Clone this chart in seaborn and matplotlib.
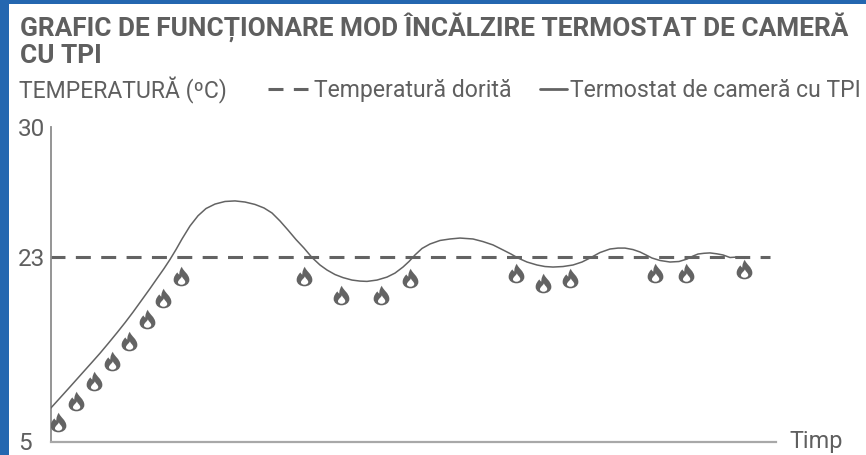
# -*- coding: utf-8 -*-
"""
Grafic de functionare mod incalzire, termostat de camera cu TPI.
Output: out.png
"""

import numpy as np
import matplotlib
matplotlib.use('Agg')
import matplotlib.pyplot as plt
from matplotlib.patches import Rectangle
from matplotlib.path import Path
import seaborn as sns

# =============================================
# Chart values
time_values = [50.5, 60, 70, 83, 92, 100, 108, 117, 125, 133, 141, 150, 157, 164, 170, 176, 182, 190,
               198, 206, 215, 225, 235, 245, 255, 264, 272, 280, 288, 296, 304, 312, 320, 327, 335,
               343, 352, 360, 367, 377, 387, 395, 403, 409, 415, 422, 430, 440, 450, 460, 473, 483,
               493, 503, 511, 518, 527, 537, 545, 553, 563, 573, 582, 590, 600, 610, 618, 625, 633,
               640, 646, 652, 660, 670, 679, 687, 693, 698, 704, 710, 717, 723, 730, 738, 745]
temp_values = [8.23, 9.25, 10.33, 11.75, 12.73, 13.61, 14.54, 15.61, 16.59, 17.62, 18.7, 19.92, 20.9,
               21.87, 22.76, 23.40, 23.97, 24.67, 25.22, 25.61, 25.85, 25.99, 26.02, 25.96, 25.83,
               25.64, 25.37, 24.94, 24.45, 23.94, 23.48, 22.95, 22.22, 21.73, 21.29, 20.99, 20.75,
               20.65, 20.62, 20.75, 21.04, 21.43, 22.02, 22.56, 23.11, 23.46, 23.70, 23.89, 23.97,
               24.02, 23.97, 23.83, 23.65, 23.38, 23.16, 22.9, 22.51, 22.22, 22.07, 22.02, 22.07,
               22.22, 22.51, 22.9, 23.24, 23.43, 23.48, 23.48, 23.40, 23.27, 23.11, 22.9, 22.66,
               22.51, 22.56, 22.8, 23.05, 23.16, 23.2, 23.22, 23.17, 23.11, 22.95, 23.0, 23.0]

setpoint_time = [50, 770]
setpoint_temp = [23, 23]

flame_time = [58, 76, 94, 112, 129, 147, 163, 181, 304, 341, 381, 410, 516, 543, 570, 655, 686, 744]
flame_temp = [6.86, 8.91, 10.87, 12.83, 14.78, 16.93, 18.99, 21.14, 21.14, 19.28, 19.28, 20.95,
              21.43, 20.46, 20.95, 21.43, 21.43, 21.83]

y_ticks = [5, 23, 30]
title_text = 'GRAFIC DE FUNCȚIONARE MOD ÎNCĂLZIRE TERMOSTAT DE CAMERĂ\nCU TPI'
y_title = 'TEMPERATURĂ (ºC)'
x_title = 'Timp'
setpoint_label = 'Temperatură dorită'
curve_label = 'Termostat de cameră cu TPI'

# =============================================
# Plotting parameters
textColor = '#5f5f5f'
lineColor = '#636363'
W, H = 866, 455

sns.set_style('white')
plt.rcParams['font.family'] = ['Roboto', 'DejaVu Sans']

f = plt.figure(figsize=(W / 100, H / 100), dpi=100, facecolor='white')

# Blue frame of the screenshot
f.add_artist(Rectangle((0, 0), 9 / W, 1, transform=f.transFigure, color='#2467b0', lw=0))
f.add_artist(Rectangle((0, 1 - 4 / H), 1, 4 / H, transform=f.transFigure, color='#2467b0', lw=0))

ax = f.add_axes([50.5 / W, (H - 441.5) / H, (776 - 50.5) / W, (441.5 - 127) / H])


# The temperature axis is not linear: 23 sits much higher than a linear 5-30 axis would put it
def forward(v):
    return np.interp(v, [5, 23, 30], [0, 184.5, 314.5])


def inverse(v):
    return np.interp(v, [0, 184.5, 314.5], [5, 23, 30])


ax.set_yscale('function', functions=(forward, inverse))

# Flame marker with the inner cut-out
flame = Path(
    [(0.04, 1.0), (0.10, 0.60), (0.80, 0.25), (0.80, -0.35), (0.80, -0.75), (0.42, -1.0), (0.0, -1.0),
     (-0.42, -1.0), (-0.80, -0.75), (-0.80, -0.35), (-0.80, -0.02), (-0.62, 0.20), (-0.42, 0.42),
     (-0.36, 0.30), (-0.32, 0.24), (-0.22, 0.20), (-0.24, 0.50), (-0.12, 0.80), (0.04, 1.0),
     # cut-out
     (0.04, 0.02), (0.0, -0.18), (-0.36, -0.35), (-0.36, -0.60), (-0.36, -0.74), (-0.18, -0.84), (0.0, -0.84),
     (0.18, -0.84), (0.38, -0.74), (0.38, -0.56), (0.38, -0.35), (0.10, -0.20), (0.04, 0.02)],
    [Path.MOVETO, Path.CURVE4, Path.CURVE4, Path.CURVE4, Path.CURVE4, Path.CURVE4, Path.CURVE4,
     Path.CURVE4, Path.CURVE4, Path.CURVE4, Path.CURVE4, Path.CURVE4, Path.CURVE4,
     Path.CURVE4, Path.CURVE4, Path.CURVE4, Path.CURVE4, Path.CURVE4, Path.CURVE4,
     Path.MOVETO, Path.CURVE4, Path.CURVE4, Path.CURVE4, Path.CURVE4, Path.CURVE4, Path.CURVE4,
     Path.CURVE4, Path.CURVE4, Path.CURVE4, Path.CURVE4, Path.CURVE4, Path.CURVE4])

sns.lineplot(x=setpoint_time, y=setpoint_temp, color=lineColor, linewidth=2.2, linestyle=(0, (4.9, 3.4)),
             label=setpoint_label, ax=ax, legend=False, zorder=2)
sns.lineplot(x=time_values, y=temp_values, color=lineColor, linewidth=1.1, sort=False,
             label=curve_label, ax=ax, legend=False, zorder=3)
sns.scatterplot(x=flame_time, y=flame_temp, marker=flame, s=200, color=lineColor, linewidth=0, ax=ax, legend=False, zorder=4)

ax.set_xlim(50.5, 776)
ax.set_ylim(5, 30)
ax.set_xticks([])
ax.set_yticks(y_ticks)
ax.set_yticklabels([str(t) for t in y_ticks], ha='left')
ax.minorticks_off()
ax.tick_params(axis='y', length=0, pad=23.5, labelsize=17.5, labelcolor=textColor)

sns.despine(ax=ax)
ax.spines['left'].set(color='#8c8c8c', linewidth=1.3)
ax.spines['bottom'].set(color='#a8a8a8', linewidth=1.6)
ax.patch.set_alpha(0)

ax.set_xlabel(x_title, fontsize=16.8, color=textColor, ha='left', va='center')
ax.xaxis.set_label_coords((789 - 50.5) / (776 - 50.5), 0)

# Header texts
f.text(19.5 / W, 1 - 12 / H, title_text, fontsize=18.9, fontweight='bold', color=textColor, va='top', linespacing=1.12)
f.text(19 / W, 1 - 90.5 / H, y_title, fontsize=16.6, color=textColor, va='center')

# Two legends, the handles have different lengths
handles, labels = ax.get_legend_handles_labels()
leg1 = f.legend(handles[:1], labels[:1], loc='center left', bbox_to_anchor=(268 / W, 1 - 90.5 / H), frameon=False,
                fontsize=16.6, labelcolor=textColor, handlelength=1.74, handletextpad=0.26, borderpad=0, borderaxespad=0)
leg2 = f.legend(handles[1:2], labels[1:2], loc='center left', bbox_to_anchor=(540 / W, 1 - 90.5 / H), frameon=False,
                fontsize=16.6, labelcolor=textColor, handlelength=1.17, handletextpad=0.13, borderpad=0, borderaxespad=0)
leg2.legend_handles[0].set_linewidth(2.0)

plt.savefig('out.png', dpi=100)
